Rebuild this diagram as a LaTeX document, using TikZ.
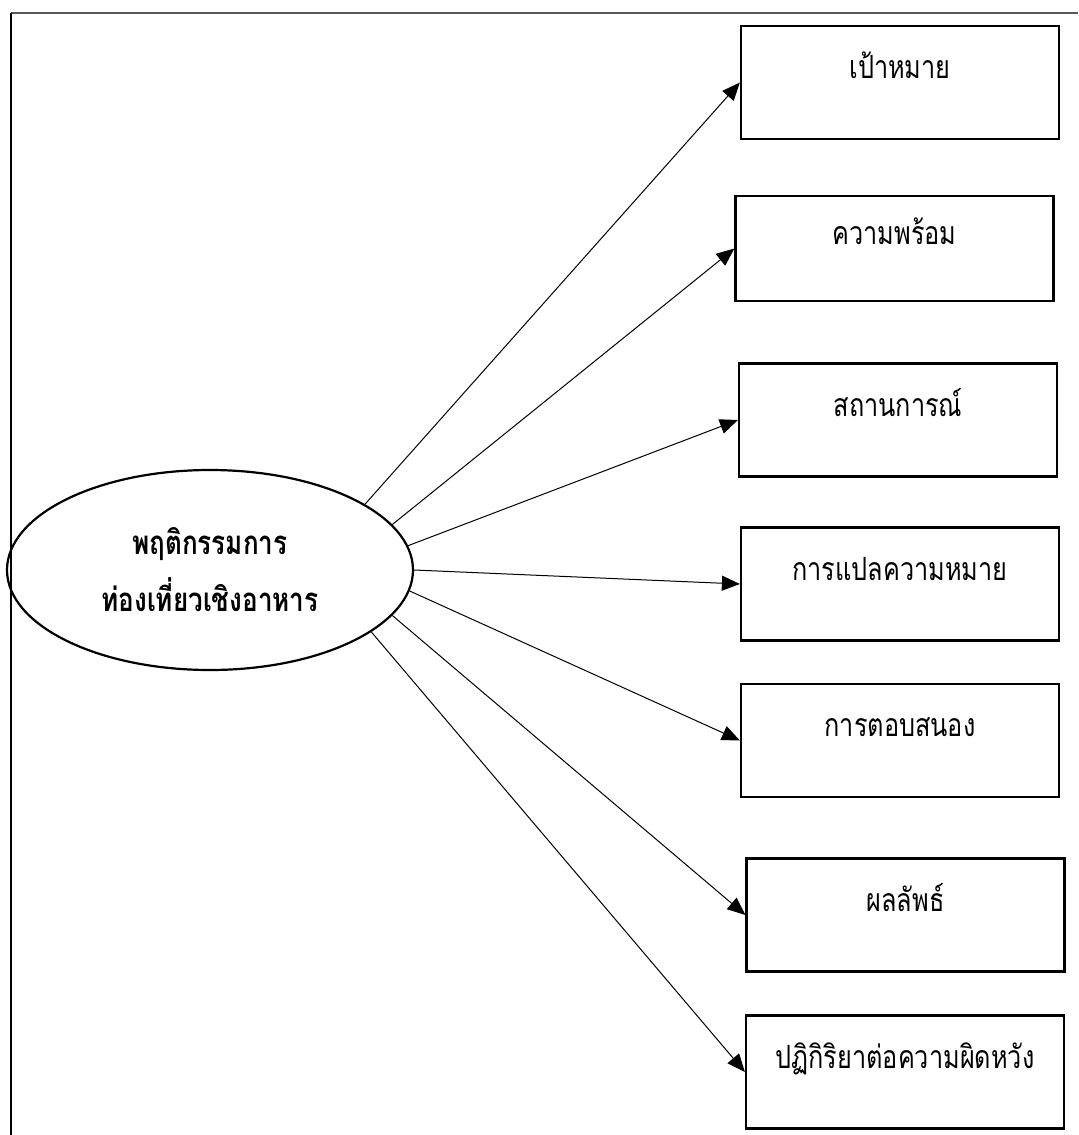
\documentclass[tikz,border=0pt]{standalone}
\usepackage{fontspec}
\newfontfamily\thaifont[Script=Thai,FakeStretch=0.79]{Loma}
\usepackage{tikz}
\usetikzlibrary{shapes,arrows.meta}

\begin{document}
\begin{tikzpicture}[x=0.5pt,y=-0.5pt,
  box/.style={draw, line width=1.1pt, minimum width=159pt, minimum height=56.5pt, inner sep=0pt,
    text height=11pt, text depth=15pt, font=\thaifont\fontsize{16}{19}\selectfont},
  arr/.style={-{Triangle[length=9pt,width=7.5pt]}, line width=0.5pt}]
\useasboundingbox (0,0) rectangle (1078,1135);
% Frame
\draw[black!65, line width=1pt] (1078,13) -- (11,13);
\draw[line width=0.6pt] (11,13) -- (11,1135);
% Ellipse
\node[ellipse, draw, line width=1.1pt, minimum width=203pt, minimum height=100pt, inner sep=0pt,
  align=center, font=\thaifont\bfseries\fontsize{16.5}{28.5}\selectfont] (ell) at (210,570)
  {พฤติกรรมการ\\ท่องเที่ยวเชิงอาหาร};
% Boxes
\node[box] (b1) at (900,82.5) {เป้าหมาย};
\node[box, minimum height=52.5pt] (b2) at (894.5,248.5) {ความพร้อม};
\node[box] (b3) at (898,420) {สถานการณ์};
\node[box] (b4) at (900,584) {การแปลความหมาย};
\node[box] (b5) at (900,740.5) {การตอบสนอง};
\node[box] (b6) at (905.5,915) {ผลลัพธ์};
\node[box] (b7) at (905,1072) {ปฏิกิริยาต่อความผิดหวัง};
% Arrows
\foreach \a/\b in {23/b1, 14/b2, 7/b3, 0/b4, -6/b5, -14/b6, -21/b7}
  \draw[arr] (ell.\a) -- (\b.west);
\end{tikzpicture}
\end{document}
